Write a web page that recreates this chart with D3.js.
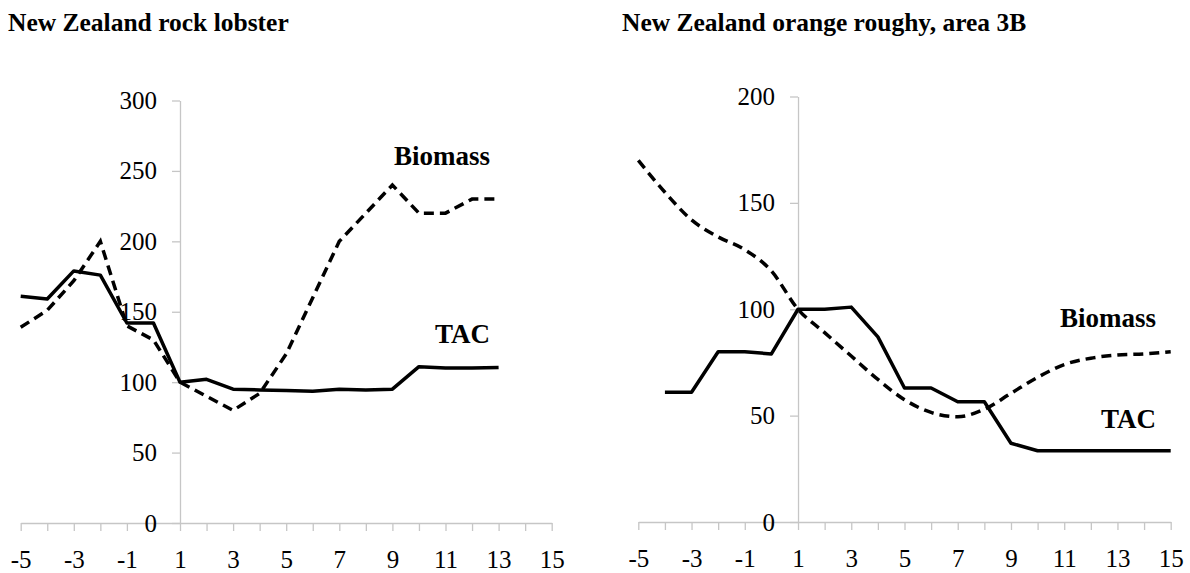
<!DOCTYPE html>
<html>
<head>
<meta charset="utf-8">
<script src="https://cdn.jsdelivr.net/npm/d3@7/dist/d3.min.js"></script>
<style>
  html, body { margin: 0; padding: 0; background: #fff; }
  svg { display: block; }
  svg text { font-family: "Liberation Serif", "Times New Roman", serif !important; fill: #000; }
</style>
</head>
<body>
<svg id="chart" width="1190" height="573"></svg>
<script>
// ---------- data ----------
const years = [-5,-4,-3,-2,-1,0,1,2,3,4,5,6,7,8,9,10,11,12,13,14,15];
const xTickLabels = [-5,-3,-1,1,3,5,7,9,11,13,15];

// New Zealand rock lobster (index, year 1 = 100)
const lobsterTAC     = [161,159,179,176,142,142,100,102,95,94.5,94,93.5,95,94.5,95,111,110,110,110.5,null,null];
const lobsterBiomass = [139,151,172,200,140,130,100,90,80,92,120,160,200,220,240,220,220,230,230,null,null];
const lobsterYTicks  = [0,50,100,150,200,250,300];

// New Zealand orange roughy, area 3B
const roughyTAC     = [null,61,61,80,80,79,100,100,101,87,63,63,56.5,56.5,37,33.5,33.5,33.5,33.5,33.5,33.5];
const roughyBiomass = [170,155,142,134,128,118,100,89,78,67,57.5,51.5,49.5,53,60.5,68,74,77,78.5,79,80];
const roughyYTicks  = [0,50,100,150,200];

const panels = [
  { title: "New Zealand rock lobster", titleX: 8,
    xRange: [20.7, 551.7], yRange: [523, 100.5], yMax: 300, yTicks: lobsterYTicks,
    tac: lobsterTAC, biomass: lobsterBiomass, smooth: false,
    labelX: 490, biomassY: 165, tacY: 343 },
  { title: "New Zealand orange roughy, area 3B", titleX: 622,
    xRange: [638.3, 1170.7], yRange: [522, 96.5], yMax: 200, yTicks: roughyYTicks,
    tac: roughyTAC, biomass: roughyBiomass, smooth: true,
    labelX: 1156, biomassY: 327, tacY: 428 }
];

const FONT = '"Liberation Serif", "Times New Roman", serif';
const svg = d3.select("#chart");
const axisColor = "#c6c6c6";

panels.forEach(p => {
  const x = d3.scaleLinear().domain([years[0], years[years.length-1]]).range(p.xRange);
  const y = d3.scaleLinear().domain([0, p.yMax]).range(p.yRange);
  const g = svg.append("g").style("font-family", FONT);

  // title
  g.append("text").attr("x", p.titleX).attr("y", 31)
    .style("font-family", FONT).style("font-size", "25.5px").style("font-weight", "bold").text(p.title);

  // x axis (crosses at 0)
  const xAxis = d3.axisBottom(x).tickValues(years).tickSize(8).tickSizeOuter(0).tickPadding(19)
    .tickFormat(d => xTickLabels.includes(d) ? d : "");
  const gx = g.append("g").attr("transform", `translate(0,${y(0)})`).call(xAxis)
    .attr("font-family", null).attr("font-size", null);
  gx.select(".domain").attr("stroke", axisColor).attr("stroke-width", 1.3);
  gx.selectAll(".tick line").attr("stroke", axisColor).attr("stroke-width", 1.3);
  gx.selectAll(".tick text").style("font-family", FONT).style("font-size", "25px");

  // y axis at year 1
  const yAxis = d3.axisLeft(y).tickValues(p.yTicks).tickSize(8).tickSizeOuter(0).tickPadding(15);
  const gy = g.append("g").attr("transform", `translate(${x(1)},0)`).call(yAxis)
    .attr("font-family", null).attr("font-size", null);
  gy.select(".domain").attr("stroke", axisColor).attr("stroke-width", 1.3);
  gy.selectAll(".tick line").attr("stroke", axisColor).attr("stroke-width", 1.3);
  gy.selectAll(".tick text").style("font-family", FONT).style("font-size", "25px");

  // lines
  const line = d3.line()
    .defined(d => d[1] != null)
    .x(d => x(d[0])).y(d => y(d[1]));
  const tacData = years.map((yr, i) => [yr, p.tac[i]]);
  const bioData = years.map((yr, i) => [yr, p.biomass[i]]);

  g.append("path")
    .attr("d", p.smooth ? line.curve(d3.curveMonotoneX)(bioData) : line.curve(d3.curveLinear)(bioData))
    .attr("fill", "none").attr("stroke", "#000").attr("stroke-width", 3.5)
    .attr("stroke-dasharray", "10,6");
  g.append("path")
    .attr("d", line.curve(d3.curveLinear)(tacData))
    .attr("fill", "none").attr("stroke", "#000").attr("stroke-width", 3.5)
    .attr("stroke-linejoin", "round");

  // series labels
  g.append("text").attr("x", p.labelX).attr("y", p.biomassY).attr("text-anchor", "end")
    .style("font-family", FONT).style("font-size", "27px").style("font-weight", "bold").text("Biomass");
  g.append("text").attr("x", p.labelX).attr("y", p.tacY).attr("text-anchor", "end")
    .style("font-family", FONT).style("font-size", "27px").style("font-weight", "bold").text("TAC");
});
</script>
</body>
</html>
